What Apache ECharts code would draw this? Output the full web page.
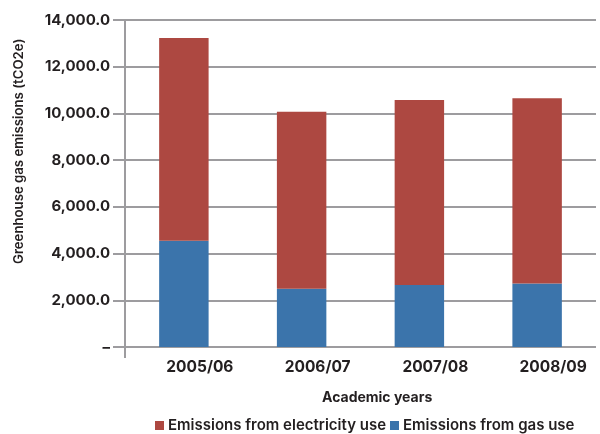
<!DOCTYPE html>
<html>
<head>
<meta charset="utf-8">
<script src="https://cdn.jsdelivr.net/npm/echarts@6/dist/echarts.min.js"></script>
<style>
  html, body { margin: 0; padding: 0; background: #fff; }
  #chart { width: 600px; height: 434px; }
</style>
</head>
<body>
<div id="chart"></div>
<script>
// Academic years and emissions (tCO2e)
const years = ['2005/06', '2006/07', '2007/08', '2008/09'];
const electricity = [8680, 7580, 7920, 7935];
const gas = [4550, 2490, 2650, 2720];
const yTicks = [0, 2000, 4000, 6000, 8000, 10000, 12000, 14000];

const FONT = 'Inter, "Liberation Sans", Arial, sans-serif';
const INK = '#231f20';
const GRID = '#9d9c9f';

const chart = echarts.init(document.getElementById('chart'), null, { renderer: 'canvas' });

function fmt(v) {
  if (v === 0) return '\u2013';
  return v.toLocaleString('en-US', { minimumFractionDigits: 1, maximumFractionDigits: 1 });
}

chart.setOption({
  animation: false,
  grid: { left: 125, right: 4, top: 20, bottom: 87, containLabel: false },
  legend: {
    bottom: -4,
    left: 150,
    itemWidth: 9,
    itemHeight: 9,
    itemGap: 4,
    icon: 'rect',
    textStyle: { fontFamily: FONT, fontSize: 15, fontWeight: 600, color: INK, padding: [0, 0, 0, -1] },
    data: ['Emissions from electricity use', 'Emissions from gas use']
  },
  xAxis: {
    type: 'category',
    data: years,
    axisLine: { show: false },
    axisTick: { show: false },
    axisLabel: {
      margin: 12, padding: [0, 0, 0, 32],
      fontFamily: FONT, fontSize: 15.5, fontWeight: 'bold', color: INK
    }
  },
  yAxis: {
    type: 'value',
    min: yTicks[0],
    max: yTicks[yTicks.length - 1],
    interval: 2000,
    axisLine: { show: true, lineStyle: { color: GRID, width: 2 } },
    axisTick: { show: true, length: 12, lineStyle: { color: GRID, width: 2 } },
    splitLine: { show: true, lineStyle: { color: GRID, width: 2 } },
    axisLabel: {
      margin: 15,
      fontFamily: FONT, fontSize: 15, fontWeight: 'bold', color: INK,
      formatter: fmt
    }
  },
  series: [
    {
      name: 'Emissions from gas use',
      type: 'bar',
      stack: 'total',
      barWidth: '42%',
      itemStyle: { color: '#3b74ab' },
      data: gas
    },
    {
      name: 'Emissions from electricity use',
      type: 'bar',
      stack: 'total',
      barWidth: '42%',
      itemStyle: { color: '#ad4841' },
      data: electricity
    }
  ],
  graphic: [
    {
      type: 'text',
      rotation: Math.PI / 2,
      x: 13, y: 264,
      style: {
        text: 'Greenhouse gas emissions (tCO2e)',
        font: '600 13.2px ' + FONT,
        fill: INK
      }
    },
    {
      type: 'line',
      shape: { x1: 125, y1: 347, x2: 125, y2: 358 },
      style: { stroke: GRID, lineWidth: 2 }
    },
    {
      type: 'text',
      x: 322, y: 391,
      style: {
        text: 'Academic years',
        font: 'bold 14px ' + FONT,
        fill: INK
      }
    }
  ]
});
</script>
</body>
</html>
